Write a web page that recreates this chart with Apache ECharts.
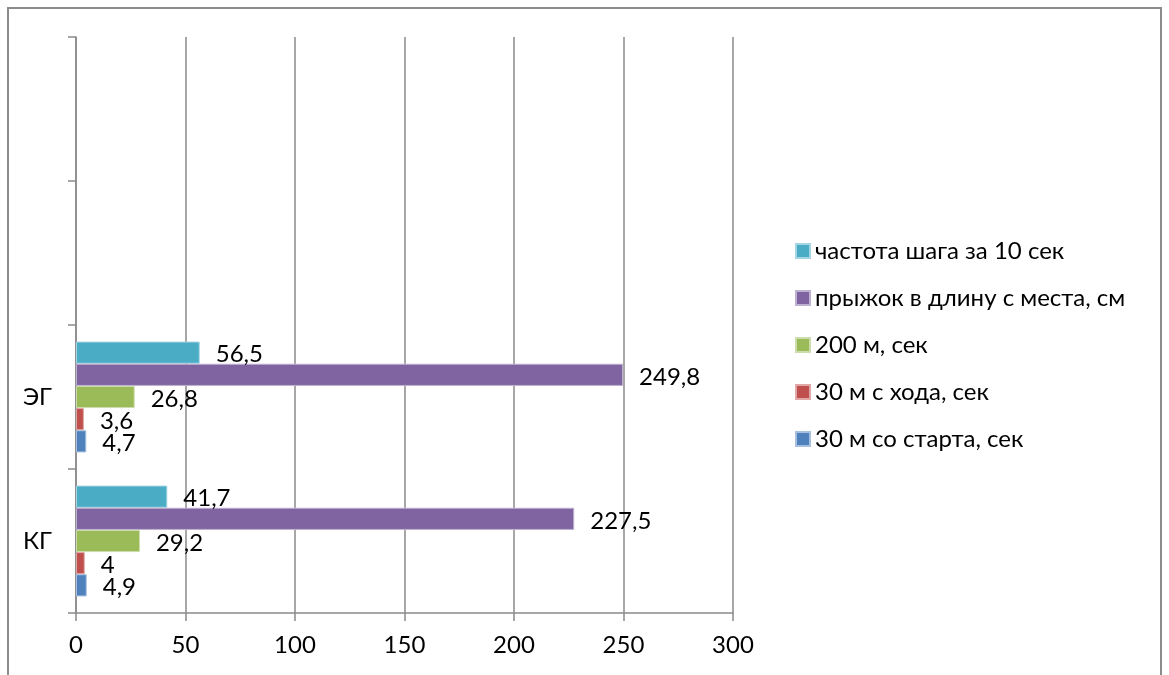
<!DOCTYPE html>
<html>
<head>
<meta charset="utf-8">
<script src="https://cdn.jsdelivr.net/npm/echarts@6/dist/echarts.min.js"></script>
<style>
  html, body { margin: 0; padding: 0; background: #fff; }
  #chart { width: 1169px; height: 675px; }
</style>
</head>
<body>
<div id="chart"></div>
<script>
// Groups on the vertical axis (bottom to top); the two upper slots are empty
const categories = ['КГ', 'ЭГ', '', ''];

// Test names, top bar in each group first
const seriesNames = [
  'частота шага за 10 сек',
  'прыжок в длину с места, см',
  '200 м, сек',
  '30 м с хода, сек',
  '30 м со старта, сек'
];

// Values per group: [КГ, ЭГ]
const stepRate = [41.7, 56.5];
const longJump = [227.5, 249.8];
const run200 = [29.2, 26.8];
const flyingRun30 = [4, 3.6];
const startRun30 = [4.9, 4.7];

const xTicks = { min: 0, max: 300, interval: 50 };

const seriesValues = [stepRate, longJump, run200, flyingRun30, startRun30];
const colors = ['#4BACC6', '#8064A2', '#9BBB59', '#C0504D', '#4F81BD'];
const borders = ['#a5d5e2', '#bfb1d0', '#cddcac', '#e0a8a6', '#a7c0de'];

const FONT = 'Lato, "Open Sans", sans-serif';
const FONT_SIZE = 24;
const GRID_COLOR = '#8a8a8a';

const chart = echarts.init(document.getElementById('chart'), null, { renderer: 'canvas' });

chart.setOption({
  animation: false,
  backgroundColor: '#ffffff',
  textStyle: { fontFamily: FONT },
  graphic: [{
    type: 'rect',
    shape: { x: 8, y: 8, width: 1153, height: 720 },
    style: { fill: 'none', stroke: '#8c8c8c', lineWidth: 2 },
    silent: true
  }],
  grid: { left: 76, right: 436, top: 37, bottom: 62, containLabel: false },
  legend: {
    orient: 'vertical',
    left: 790,
    top: 234,
    itemWidth: 14,
    itemHeight: 14,
    itemGap: 23,
    icon: 'rect',
    textStyle: { fontFamily: FONT, fontSize: FONT_SIZE, lineHeight: 24, color: '#000' },
    data: seriesNames.slice()
  },
  xAxis: {
    type: 'value',
    min: xTicks.min,
    max: xTicks.max,
    interval: xTicks.interval,
    axisLine: { show: true, lineStyle: { color: GRID_COLOR, width: 1.5 } },
    axisTick: { show: true, length: 8, lineStyle: { color: GRID_COLOR, width: 1.5 } },
    axisLabel: { fontFamily: FONT, fontSize: FONT_SIZE, color: '#000', margin: 20 },
    splitLine: { show: true, lineStyle: { color: GRID_COLOR, width: 1.5 } }
  },
  yAxis: {
    type: 'category',
    data: categories,
    axisLine: { show: true, lineStyle: { color: GRID_COLOR, width: 1.5 } },
    axisTick: { show: true, length: 8, lineStyle: { color: GRID_COLOR, width: 1.5 } },
    axisLabel: { fontFamily: FONT, fontSize: FONT_SIZE, color: '#000', margin: 24 },
    splitLine: { show: false }
  },
  series: seriesNames.map((name, i) => ({
    name: name,
    type: 'bar',
    data: seriesValues[i],
    barGap: '0%',
    barCategoryGap: '23%',
    itemStyle: { color: colors[i], borderColor: borders[i], borderWidth: 1 },
    label: {
      show: true,
      position: 'right',
      distance: 16,
      offset: [0, 2],
      fontFamily: FONT,
      fontSize: FONT_SIZE,
      color: '#000',
      formatter: p => String(p.value).replace('.', ',')
    }
  }))
});
</script>
</body>
</html>
